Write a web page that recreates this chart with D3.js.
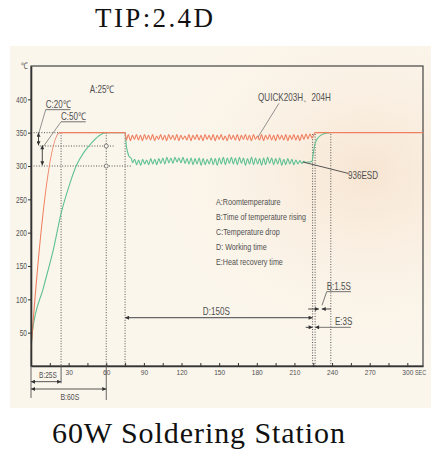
<!DOCTYPE html>
<html>
<head>
<meta charset="utf-8">
<script src="https://cdn.jsdelivr.net/npm/d3@7"></script>
<style>
  html, body { margin: 0; padding: 0; background: #fff; }
  svg { display: block; }
</style>
</head>
<body>
<svg id="chart" width="431" height="453"></svg>
<script>
// ---- data ----
const yTickValues = [50, 100, 150, 200, 250, 300, 350, 400];
const xTickValues = [15, 30, 45, 60, 75, 90, 105, 120, 135, 150, 165, 180, 195, 210, 225, 240, 255, 270, 285, 300];
const xTickLabels = [30, 60, 90, 120, 150, 180, 210, 240, 270, 300];

// QUICK203H / 204H (red)
const redRiseTime = [0, 1, 23, 75];
const redRiseTemp = [25, 50, 350, 350];
const redWobble = [
  339, 347, 338, 346, 340, 347, 339, 346, 338, 347,
  340, 346, 339, 347, 338, 345, 340, 347, 339, 346,
  338, 347, 340, 346, 339, 347, 338, 346, 340, 345,
  339, 347, 338, 346, 340, 347, 339, 346, 338, 347,
  340, 346, 339, 347, 338, 346, 340, 347, 339, 345,
  338, 347, 340, 346, 339, 347, 338, 346, 340, 347,
  339, 346, 338, 347, 340, 345, 339, 347, 338, 346,
  340, 347, 339, 346, 338, 347, 340, 346, 339, 347,
  338, 346, 340, 347, 339, 346, 338, 347, 340, 348,
  341, 348, 342
];
const redTailTime = [226.5, 312.5];
const redTailTemp = [350, 350];

// 936ESD (green)
const greenRiseTime = [0, 1, 10, 18, 24, 30, 36, 42, 48, 54, 60, 75, 76, 77, 78, 80];
const greenRiseTemp = [25, 50, 118, 176, 229, 268, 300, 320, 334, 345, 350, 350, 330, 321, 315, 311];
const greenWobble = [
  305, 310, 302, 309, 301, 310, 303, 309, 302, 311,
  303, 310, 302, 311, 304, 312, 303, 313, 305, 312,
  304, 313, 306, 312, 305, 313, 304, 311, 303, 312,
  302, 311, 303, 312, 301, 311, 302, 310, 303, 312,
  302, 311, 301, 312, 303, 313, 302, 312, 304, 313,
  303, 312, 302, 313, 304, 312, 301, 311, 303, 313,
  302, 312, 303, 311, 301, 312, 302, 313, 304, 312,
  302, 311, 303, 312, 301, 310, 302, 311, 303, 310,
  302, 309, 303, 308, 304, 307, 305, 306, 306, 307
];
const greenTailTime = [225, 226, 228, 231, 235, 239];
const greenTailTemp = [318, 330, 340, 346, 349, 350];

const redWobbleStart = 76, greenWobbleStart = 81, wobbleEnd = 224;

// guide lines: [temp, from sec, to sec] and [sec, top temp]
const hGuides = [[350, 0, 75], [330, 7, 67], [300, 0, 80]];
const vGuides = [[24, 350], [60, 350], [75, 350], [224.5, 348], [226.5, 348], [239, 348]];
const guideRings = [[60, 330], [60, 300]];

const seriesNames = ["QUICK203H\u3001204H", "936ESD"];
const legendLines = ["A:Roomtemperature", "B:Time of temperature rising", "C:Temperature drop", "D: Working time", "E:Heat recovery time"];

// ---- drawing ----
const W = 431, H = 453;
const FONT = "'Liberation Sans', Arial, sans-serif";
const SERIF = "'Liberation Serif', 'DejaVu Serif', serif";
const INK = "#505050";
const RED = "#ee7f60", GREEN = "#5fc192";

const svg = d3.select("#chart");
const x = d3.scaleLinear().domain([0, 312.5]).range([31, 423]);
const y = d3.scaleLinear().domain([0, 450]).range([366, 66]);

function squeeze(sel, k) {
  sel.each(function () {
    const w = this.getComputedTextLength();
    d3.select(this).attr("textLength", w * k).attr("lengthAdjust", "spacingAndGlyphs");
  });
  return sel;
}
function label(t, v, str, size, anchor) {
  const el = svg.append("text")
    .attr("x", x(t)).attr("y", y(v))
    .attr("text-anchor", anchor || "start")
    .style("font-family", FONT).style("font-size", size + "px").style("fill", INK)
    .text(str);
  squeeze(el, 0.77);
  return el;
}
function underline(el, v) {
  const x0 = +el.attr("x"), w = +el.attr("textLength");
  svg.append("line").attr("x1", x0).attr("x2", x0 + w)
    .attr("y1", y(v)).attr("y2", y(v))
    .attr("stroke", INK).attr("stroke-width", 0.8);
}
function seg(p, q, opts) {
  const o = opts || {};
  const ln = svg.append("line")
    .attr("x1", x(p[0])).attr("y1", y(p[1]))
    .attr("x2", x(q[0])).attr("y2", y(q[1]))
    .attr("stroke", o.color || "#666").attr("stroke-width", o.w || 0.9);
  if (o.start) ln.attr("marker-start", "url(#ah)");
  if (o.end) ln.attr("marker-end", "url(#ah)");
  return ln;
}

const defs = svg.append("defs");
defs.append("marker").attr("id", "ah")
  .attr("viewBox", "0 0 10 10").attr("refX", 10).attr("refY", 5)
  .attr("markerUnits", "userSpaceOnUse").attr("markerWidth", 6).attr("markerHeight", 4)
  .attr("orient", "auto-start-reverse")
  .append("path").attr("d", "M0,0 L10,5 L0,10 z").attr("fill", "#333");
const glow = defs.append("radialGradient").attr("id", "glow")
  .attr("cx", 0.85).attr("cy", 0.35).attr("r", 0.55);
glow.append("stop").attr("offset", "0%").attr("stop-color", "#f7e3cf").attr("stop-opacity", 0.9);
glow.append("stop").attr("offset", "100%").attr("stop-color", "#fbf5eb").attr("stop-opacity", 0);

// photo panel
svg.append("rect").attr("x", 10).attr("y", 46).attr("width", 421).attr("height", 362).attr("fill", "#fbf6ec");
svg.append("rect").attr("x", 10).attr("y", 46).attr("width", 421).attr("height", 362).attr("fill", "url(#glow)");

// title & caption
svg.append("text").attr("x", 95).attr("y", 27)
  .style("font-family", SERIF).style("font-size", "27px").style("fill", "#111")
  .attr("textLength", 118).attr("lengthAdjust", "spacing")
  .text("TIP:2.4D");
svg.append("text").attr("x", 52).attr("y", 443)
  .style("font-family", SERIF).style("font-size", "30px").style("fill", "#111")
  .attr("textLength", 293).attr("lengthAdjust", "spacing")
  .text("60W Soldering Station");

// frame
svg.append("rect")
  .attr("x", x(0)).attr("y", y(450))
  .attr("width", x(312.5) - x(0)).attr("height", y(0) - y(450))
  .attr("fill", "none").attr("stroke", "#444").attr("stroke-width", 1.2);

// dotted guides
const dot = { color: "#555", w: 1 };
hGuides.forEach(g => seg([g[1], g[0]], [g[2], g[0]], dot).attr("stroke-dasharray", "1,1.6"));
vGuides.forEach(g => seg([g[0], g[1]], [g[0], 0], dot).attr("stroke-dasharray", "1,1.6"));
svg.selectAll(".ring").data(guideRings).join("circle")
  .attr("cx", d => x(d[0])).attr("cy", d => y(d[1])).attr("r", 2)
  .attr("fill", "#fbf6ec").attr("stroke", "#666").attr("stroke-width", 0.8);

// curves
const wobblePts = (start, vals) => vals.map((v, i) => [start + i * (wobbleEnd - start) / (vals.length - 1), v]);
const zip = (ts, vs) => ts.map((t, i) => [t, vs[i]]);
const greenPts = zip(greenRiseTime, greenRiseTemp)
  .concat(wobblePts(greenWobbleStart, greenWobble))
  .concat(zip(greenTailTime, greenTailTemp));
const redPts = zip(redRiseTime, redRiseTemp)
  .concat(wobblePts(redWobbleStart, redWobble))
  .concat(zip(redTailTime, redTailTemp));

const line = d3.line().x(d => x(d[0])).y(d => y(d[1])).curve(d3.curveMonotoneX);
svg.append("path").datum(greenPts).attr("d", line)
  .attr("fill", "none").attr("stroke", GREEN).attr("stroke-width", 1.1);
svg.append("path").datum(redPts).attr("d", line)
  .attr("fill", "none").attr("stroke", RED).attr("stroke-width", 1.1);

// axes
svg.append("g").attr("transform", `translate(0,${y(0)})`)
  .call(d3.axisBottom(x).tickValues(xTickValues).tickSize(-3).tickSizeOuter(0).tickPadding(3)
    .tickFormat(d => xTickLabels.includes(d) ? d : ""))
  .call(ax => {
    ax.select(".domain").attr("stroke", "#333").attr("stroke-width", 1.5);
    ax.selectAll(".tick line").attr("stroke", "#333");
    ax.selectAll(".tick text").style("font-family", FONT).style("font-size", "7.8px").style("fill", INK);
    squeeze(ax.selectAll(".tick text"), 0.84);
  });
svg.append("g").attr("transform", `translate(${x(0)},0)`)
  .call(d3.axisLeft(y).tickValues(yTickValues).tickSize(3).tickSizeOuter(0).tickPadding(1))
  .call(ax => {
    ax.select(".domain").attr("stroke", "#333").attr("stroke-width", 1.6);
    ax.selectAll(".tick line").attr("stroke", "#333");
    ax.selectAll(".tick text").style("font-family", FONT).style("font-size", "8.5px").style("fill", INK);
    squeeze(ax.selectAll(".tick text"), 0.77);
  });
label(-5.6, 445, "\u2103", 9, "middle");
label(306.1, -14, "SEC", 7);

// series names with leaders
label(181, 398, seriesNames[0], 10.5);
seg([197.7, 394], [181, 343.5], { color: "#777", w: 0.8 });
label(252.7, 280, seriesNames[1], 10.5);
seg([216.8, 306], [252.7, 289], { color: "#555", w: 1 });

// room temperature and drops
label(56.6, 409.5, "A:25\u2103", 10.5, "middle");
const c20 = label(11.7, 387, "C:20\u2103", 10.5);
underline(c20, 384.5);
seg([11.7, 384.5], [5.8, 346.5], { color: "#777", w: 0.8 });
const c50 = label(23.9, 369, "C:50\u2103", 10.5);
underline(c50, 366.3);
seg([23.9, 366.3], [9.8, 329], { color: "#777", w: 0.8 });
seg([6, 350], [6, 331], { color: "#333", w: 0.9, start: true, end: true });
seg([9, 331], [9, 301], { color: "#333", w: 0.9, start: true, end: true });

// legend block
legendLines.forEach((s, i) => {
  label(147.5, 241.5, s, 9.3).attr("y", y(241.5) + i * 14.9);
});

// working time
label(137, 77, "D:150S", 10.5);
seg([75, 72.5], [224.5, 72.5], { color: "#666", w: 1.3, start: true, end: true });

// recovery
const b15 = label(235.7, 114, "B:1.5S", 10.5);
underline(b15, 111.5);
seg([235.7, 111.5], [232, 91], { color: "#555", w: 0.8 });
seg([221, 85.5], [229.5, 85.5], { color: "#333", w: 0.9, end: true });
seg([239, 85.5], [231.8, 85.5], { color: "#333", w: 0.9, end: true });
label(242.3, 61.5, "E:3S", 10.5);
seg([219, 58], [224.5, 58], { color: "#333", w: 0.9, end: true });
seg([226.5, 58], [255, 58], { color: "#555", w: 0.8, start: true });

// rising times below the axis
seg([0, 0], [0, -48], { color: "#555", w: 0.9 });
seg([24, 0], [24, -26], { color: "#555", w: 0.9 });
seg([60, 0], [60, -51], { color: "#555", w: 0.9 });
label(6.4, -18, "B:25S", 8.5);
seg([0, -23.5], [24, -23.5], { color: "#444", w: 0.9, start: true, end: true });
label(31, -51, "B:60S", 9, "middle");
seg([0, -34.5], [60, -34.5], { color: "#444", w: 0.9, start: true, end: true });
</script>
</body>
</html>
